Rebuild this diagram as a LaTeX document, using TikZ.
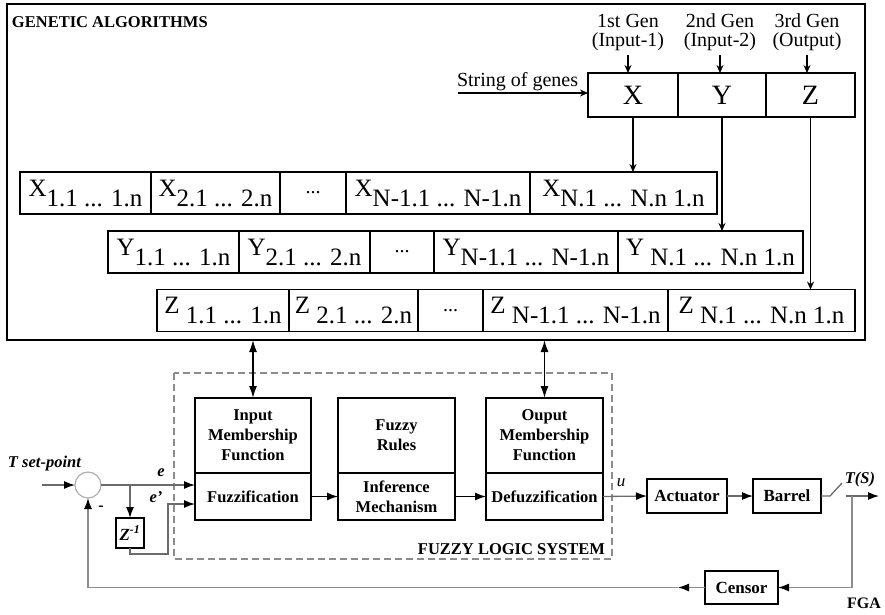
\documentclass[tikz,border=0pt]{standalone}
\usepackage{fontspec}
\setmainfont{Liberation Serif}
\usetikzlibrary{arrows.meta}
\definecolor{lg}{rgb}{0.42,0.42,0.42}
\definecolor{fg}{rgb}{0.55,0.55,0.55}
\newcommand\celltxt[2]{#1\raisebox{-10pt}{#2}}
\begin{document}
\begin{tikzpicture}[x=1pt,y=-1pt,
 every node/.style={inner sep=0pt, outer sep=0pt},
 cell/.style={draw, line width=1.8pt, font=\fontsize{25}{25}\selectfont, minimum height=42pt},
 dotcell/.style={draw, line width=1.8pt, font=\fontsize{20}{20}\selectfont, minimum height=42pt},
 gene/.style={draw, line width=1.8pt, font=\fontsize{28}{28}\selectfont, minimum height=44pt},
 lab/.style={font=\fontsize{20}{19}\selectfont, align=center},
 fbox/.style={draw, line width=1.3pt, font=\bfseries\fontsize{16.5}{20}\selectfont, align=center, minimum width=116pt},
 blk/.style={draw, line width=1.3pt, font=\bfseries\fontsize{17}{17}\selectfont, minimum height=34pt},
 bi/.style={font=\bfseries\itshape\fontsize{16.5}{16.5}\selectfont},
 garr/.style={-{Stealth[length=8pt,width=7pt]}, line width=1.4pt},
 carr/.style={-{Latex[length=11pt,width=8pt,black]}, line width=1.3pt, draw=lg},
 farr/.style={-{Latex[length=11pt,width=8pt,black]}, line width=1.3pt, draw=fg},
 biarr/.style={{Latex[length=12pt,width=8pt]}-{Latex[length=12pt,width=8pt]}, line width=1.5pt}]
\useasboundingbox (0,0) rectangle (885,614);

% Genetic algorithm frame
\node[draw, line width=2.6pt, minimum width=858pt, minimum height=336pt] (ga) at (436,172) {};
\node[font=\bfseries\fontsize{16.5}{16.5}\selectfont, anchor=base west] (gat) at (12,27) {GENETIC ALGORITHMS};

% string of genes
\node[gene, minimum width=90pt] (sX) at (633,95) {X};
\node[gene, minimum width=88pt] (sY) at (722,95) {Y};
\node[gene, minimum width=89pt] (sZ) at (810.5,95) {Z};

\node[lab, anchor=south] (g1) at (628,51) {1st Gen\\(Input-1)};
\node[lab, anchor=south] (g2) at (720,51) {2nd Gen\\(Input-2)};
\node[lab, anchor=south] (g3) at (807,51) {3rd Gen\\(Output)};
\draw[garr] ([yshift=-4pt]g1.south) -- (g1.south |- sX.north);
\draw[garr] ([yshift=-4pt]g2.south) -- (g2.south |- sY.north);
\draw[garr] ([yshift=-4pt]g3.south) -- (g3.south |- sZ.north);

\node[font=\fontsize{20}{20}\selectfont, anchor=base west] (sog) at (457,86) {String of genes};
\coordinate (sogs) at (458,93);
\draw[garr] (sogs) -- (sogs -| sX.west);

% X row
\node[cell, minimum width=131pt] (x1) at (85.5,193) {\celltxt{X}{1.1 ... 1.n}};
\node[cell, minimum width=129pt] (x2) at (215.5,193) {\celltxt{X}{2.1 ... 2.n}};
\node[dotcell, minimum width=66pt] (x3) at (313,193) {...};
\node[cell, minimum width=184pt] (x4) at (438,193) {\celltxt{X}{N-1.1 ... N-1.n}};
\node[cell, minimum width=187pt] (x5) at (623.5,193) {\celltxt{X}{N.1 ... N.n 1.n}};
% Y row
\node[cell, minimum width=131pt] (y1) at (173.5,252) {\celltxt{Y}{1.1 ... 1.n}};
\node[cell, minimum width=131pt] (y2) at (304.5,252) {\celltxt{Y}{2.1 ... 2.n}};
\node[dotcell, minimum width=64pt] (y3) at (402,252) {...};
\node[cell, minimum width=184pt] (y4) at (526,252) {\celltxt{Y}{N-1.1 ... N-1.n}};
\node[cell, minimum width=185pt] (y5) at (710.5,252) {\celltxt{Y}{ N.1 ... N.n 1.n}};
% Z row
\node[cell, minimum width=132pt] (z1) at (223,310.5) {\celltxt{Z}{ 1.1 ... 1.n}};
\node[cell, minimum width=129pt] (z2) at (353.5,310.5) {\celltxt{Z}{ 2.1 ... 2.n}};
\node[dotcell, minimum width=65pt] (z3) at (450.5,310.5) {...};
\node[cell, minimum width=185pt] (z4) at (575.5,310.5) {\celltxt{Z}{ N-1.1 ... N-1.n}};
\node[cell, minimum width=187pt] (z5) at (761.5,310.5) {\celltxt{Z}{ N.1 ... N.n 1.n}};

\draw[garr] (sX.south) -- (sX.south |- x5.north);
\draw[garr] (sY.south) -- (sY.south |- y5.north);
\draw[garr] (sZ.south) -- (sZ.south |- z5.north);

% Fuzzy logic system
\draw[fg, line width=1.4pt, dash pattern=on 7pt off 4pt] (174,373) rectangle (612,559);
\node[font=\bfseries\fontsize{16.5}{16.5}\selectfont, anchor=base east] (fls) at (605,554) {FUZZY LOGIC SYSTEM};

\node[fbox, minimum height=75pt] (inTop) at (253,435.5) {Input\\Membership\\Function};
\node[fbox, minimum height=47pt] (inBot) at (253,496.5) {Fuzzification};
\node[fbox, minimum width=117pt, minimum height=75pt] (rTop) at (396.5,435.5) {Fuzzy\\Rules};
\node[fbox, minimum width=117pt, minimum height=47pt] (rBot) at (396.5,496.5) {Inference\\Mechanism};
\node[fbox, minimum width=117pt, minimum height=75pt] (oTop) at (544.5,435.5) {Ouput\\Membership\\Function};
\node[fbox, minimum width=117pt, minimum height=47pt] (oBot) at (544.5,496.5) {Defuzzification};

\draw[biarr] (inTop.north |- ga.south) -- (inTop.north);
\draw[biarr] (oTop.north |- ga.south) -- (oTop.north);

\draw[carr, draw=black] (inBot.east) -- (rBot.west);
\draw[carr, draw=black] (rBot.east) -- (oBot.west);

% loop
\node[circle, draw=fg!70, line width=1.2pt, minimum size=26pt] (sum) at (88,485) {};
\coordinate (tin) at (42,485);
\draw[carr] (tin) -- (sum.west);
\node[bi, anchor=base west] (tsp) at (8,467) {T set-point};
\node[font=\bfseries\fontsize{16}{16}\selectfont] (minus) at (101,508) {-};

\node[draw, line width=1.3pt, minimum width=28pt, minimum height=30pt, font=\bfseries\itshape\fontsize{17}{17}\selectfont] (zb) at (130,533) {Z\textsuperscript{-1}};
\draw[carr] (sum.east) -- (sum.east -| inBot.west);
\coordinate (br) at (sum.east -| zb.north);
\draw[carr] (br) -- (zb.north);
\coordinate (ep) at (168,504);
\draw[carr] (zb.south) -- ([yshift=-6pt]zb.south) -| (ep) -- (ep -| inBot.west);
\node[bi] (elab) at (161,473) {e};
\node[bi] (eplab) at (156,497) {e'};

\node[blk, minimum width=80pt] (act) at (687,496) {Actuator};
\node[blk, minimum width=68pt] (bar) at (787,496) {Barrel};
\draw[carr] (oBot.east) -- (act.west);
\node[font=\itshape\fontsize{17}{17}\selectfont] (ulab) at (621,483) {u};
\draw[carr] (act.east) -- (bar.west);
\draw[line width=1.3pt, draw=lg] (bar.east) -- ++(9,0) -- ++(12,-13);
\node[bi] (ts) at (860,480) {T(S)};
\coordinate (sw) at (846,496);
\coordinate (tout) at (879,496);
\draw[carr] (sw) -- (tout);

\node[blk, minimum width=73pt, minimum height=33pt] (cen) at (741.5,587.5) {Censor};
\coordinate (fbj) at (852,496);
\draw[farr] (fbj) |- (cen.east);
\coordinate (fbm) at (678,587.5);
\draw[farr] (cen.west) -- (fbm);
\draw[farr] (fbm) -| (sum.south);

\node[font=\bfseries\fontsize{16}{16}\selectfont] (fga) at (864,603) {FGA};
\end{tikzpicture}
\end{document}
